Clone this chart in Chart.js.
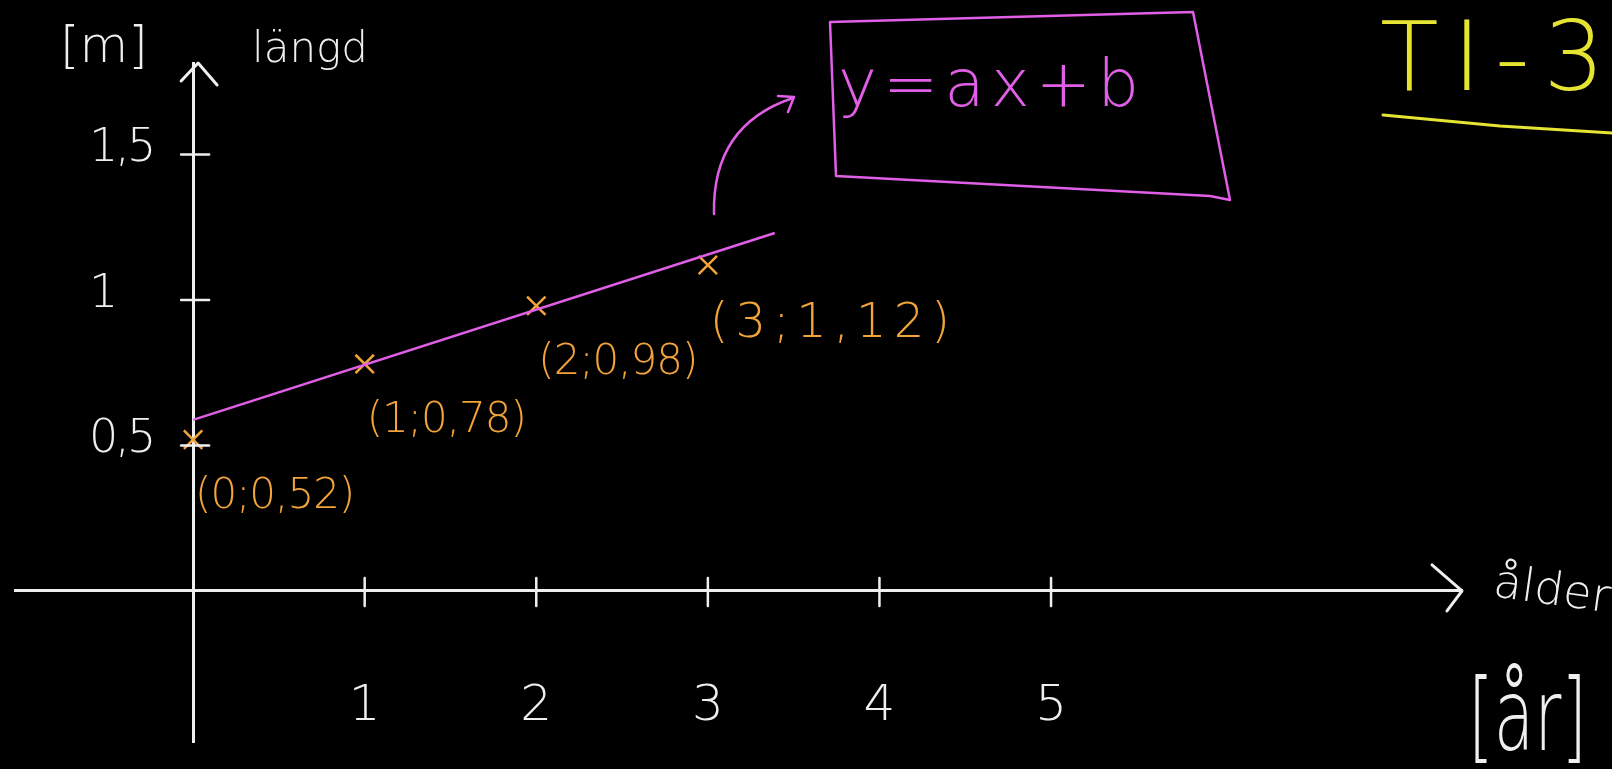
<!DOCTYPE html>
<html><head><meta charset="utf-8">
<script src="https://cdn.jsdelivr.net/npm/chart.js@4.4.1/dist/chart.umd.min.js"></script>
<style>html,body{margin:0;padding:0;background:#000;overflow:hidden}canvas{display:block}</style>
</head><body>
<canvas id="c" width="1612" height="769"></canvas>
<script>
// ---- data ----
const ageYears = [0, 1, 2, 3];
const lengthMeters = [0.52, 0.78, 0.98, 1.12];
const pointLabels = ['(0;0,52)', '(1;0,78)', '(2;0,98)', '(3;1,12)'];
const fitLineX = [0, 3.39];
const fitLineY = [0.588, 1.23];
const xTickValues = [1, 2, 3, 4, 5];
const xTickLabels = ['1', '2', '3', '4', '5'];
const yTickValues = [0.5, 1, 1.5];
const yTickLabels = ['0,5', '1', '1,5'];
const xAxisTitle = 'ålder';
const xAxisUnit = '[år]';
const yAxisTitle = 'längd';
const yAxisUnit = '[m]';
const formulaText = 'y=ax+b';
const titleText = 'TI-3';

// ---- style ----
const WHITE = '#efefef';
const ORANGE = '#f2a33a';
const MAGENTA = '#e15ee6';
const YELLOW = '#e6e433';
const FAM = "'DejaVu Sans'";
const font = (s) => `200 ${s}px ${FAM}`;

const decor = {
  id: 'decor',
  afterDraw(chart) {
    const ctx = chart.ctx;
    const xs = chart.scales.x, ys = chart.scales.y;
    const x0 = xs.getPixelForValue(0), y0 = ys.getPixelForValue(0);
    const ca = chart.chartArea;
    ctx.save();
    ctx.lineCap = 'round';
    ctx.lineJoin = 'round';
    // tick crosses
    ctx.strokeStyle = WHITE; ctx.lineWidth = 2.5;
    xTickValues.forEach(v => {
      const p = xs.getPixelForValue(v);
      ctx.beginPath(); ctx.moveTo(p, y0 - 13); ctx.lineTo(p, y0 + 15); ctx.stroke();
    });
    yTickValues.forEach(v => {
      const p = ys.getPixelForValue(v);
      ctx.beginPath(); ctx.moveTo(x0 - 12, p); ctx.lineTo(x0 + 16, p); ctx.stroke();
    });
    // y tick labels (placed on the y scale)
    ctx.fillStyle = WHITE;
    ctx.font = font(46);
    ctx.letterSpacing = '-3px';
    ctx.textAlign = 'left'; ctx.textBaseline = 'middle';
    yTickValues.forEach((v, i) => {
      ctx.fillText(yTickLabels[i], x0 - 104, ys.getPixelForValue(v) - 5);
    });
    ctx.letterSpacing = '0px';
    // arrowheads
    ctx.lineWidth = 3;
    ctx.beginPath();
    ctx.moveTo(x0 - 12, ca.top + 18); ctx.lineTo(x0 + 5, ca.top); ctx.lineTo(x0 + 24, ca.top + 22);
    ctx.stroke();
    ctx.beginPath();
    ctx.moveTo(ca.right - 30, y0 - 26); ctx.lineTo(ca.right, y0); ctx.lineTo(ca.right - 15, y0 + 20);
    ctx.stroke();

    // point labels
    const meta = chart.getDatasetMeta(0);
    ctx.fillStyle = ORANGE;
    ctx.textAlign = 'left'; ctx.textBaseline = 'top';
    meta.data.forEach((el, i) => {
      if (i === 3) { ctx.font = font(48); ctx.letterSpacing = '7px'; }
      else { ctx.font = font(42); ctx.letterSpacing = '-1px'; }
      ctx.fillText(pointLabels[i], el.x + 2, el.y + 36);
    });
    ctx.letterSpacing = '0px';

    // formula box
    ctx.strokeStyle = MAGENTA; ctx.lineWidth = 2.5;
    ctx.beginPath();
    ctx.moveTo(830, 22); ctx.lineTo(1193, 12); ctx.lineTo(1230, 200); ctx.lineTo(1210, 196);
    ctx.lineTo(836, 176); ctx.closePath(); ctx.stroke();
    ctx.fillStyle = MAGENTA;
    ctx.font = font(66);
    ctx.letterSpacing = '6px';
    ctx.textBaseline = 'alphabetic';
    ctx.fillText(formulaText, 838, 106);
    ctx.letterSpacing = '0px';
    // curved arrow from line end to box
    ctx.beginPath();
    ctx.moveTo(714, 214); ctx.quadraticCurveTo(712, 125, 793, 98); ctx.stroke();
    ctx.beginPath();
    ctx.moveTo(778, 96); ctx.lineTo(794, 97); ctx.lineTo(788, 112); ctx.stroke();

    // title
    ctx.fillStyle = YELLOW;
    ctx.font = font(96);
    ctx.letterSpacing = '14px';
    ctx.fillText(titleText, 1380, 90);
    ctx.letterSpacing = '0px';
    ctx.strokeStyle = YELLOW; ctx.lineWidth = 3;
    ctx.beginPath(); ctx.moveTo(1383, 115); ctx.lineTo(1500, 126); ctx.lineTo(1612, 133); ctx.stroke();

    // axis titles
    ctx.fillStyle = WHITE;
    ctx.font = font(50);
    ctx.fillText(yAxisUnit, 60, 62);
    ctx.font = font(42);
    ctx.fillText(yAxisTitle, 252, 62);
    ctx.save();
    ctx.translate(1492, 596); ctx.rotate(0.14);
    ctx.font = font(46);
    ctx.fillText(xAxisTitle, 0, 0);
    ctx.restore();
    ctx.save();
    ctx.translate(1468, 750); ctx.scale(1, 1.5);
    ctx.font = font(66);
    ctx.fillText(xAxisUnit, 0, 0);
    ctx.restore();
    ctx.restore();
  }
};

new Chart(document.getElementById('c'), {
  type: 'scatter',
  data: {
    datasets: [
      {
        label: 'mätpunkter',
        data: ageYears.map((a, i) => ({ x: a, y: lengthMeters[i] })),
        pointStyle: 'crossRot',
        pointRadius: 13,
        borderColor: ORANGE,
        backgroundColor: ORANGE,
        pointBorderWidth: 2.5,
        showLine: false,
        order: 1
      },
      {
        label: 'y = ax + b',
        data: fitLineX.map((a, i) => ({ x: a, y: fitLineY[i] })),
        showLine: true,
        borderColor: MAGENTA,
        borderWidth: 2.5,
        pointRadius: 0,
        order: 0
      }
    ]
  },
  options: {
    responsive: false,
    animation: false,
    layout: { padding: { left: 12, right: 150, top: 63, bottom: 27 } },
    plugins: { legend: { display: false }, tooltip: { enabled: false } },
    scales: {
      x: {
        type: 'linear',
        min: -1.035, max: 7.395,
        position: { y: 0 },
        afterBuildTicks: s => { s.ticks = xTickValues.map(v => ({ value: v })); },
        ticks: {
          callback: (v, i) => xTickLabels[i],
          color: WHITE,
          font: { family: FAM, size: 50, weight: 200 },
          padding: 86,
          autoSkip: false,
          maxRotation: 0
        },
        grid: { display: true, drawOnChartArea: false, drawTicks: false, color: WHITE },
        border: { display: true, color: WHITE, width: 3 }
      },
      y: {
        type: 'linear',
        min: -0.519, max: 1.814,
        position: { x: 0 },
        afterBuildTicks: s => { s.ticks = yTickValues.map(v => ({ value: v })); },
        ticks: { display: false, padding: 0 },
        grid: { display: true, drawOnChartArea: false, drawTicks: false, color: WHITE },
        border: { display: true, color: WHITE, width: 3 }
      }
    }
  },
  plugins: [decor]
});
</script>
</body></html>
